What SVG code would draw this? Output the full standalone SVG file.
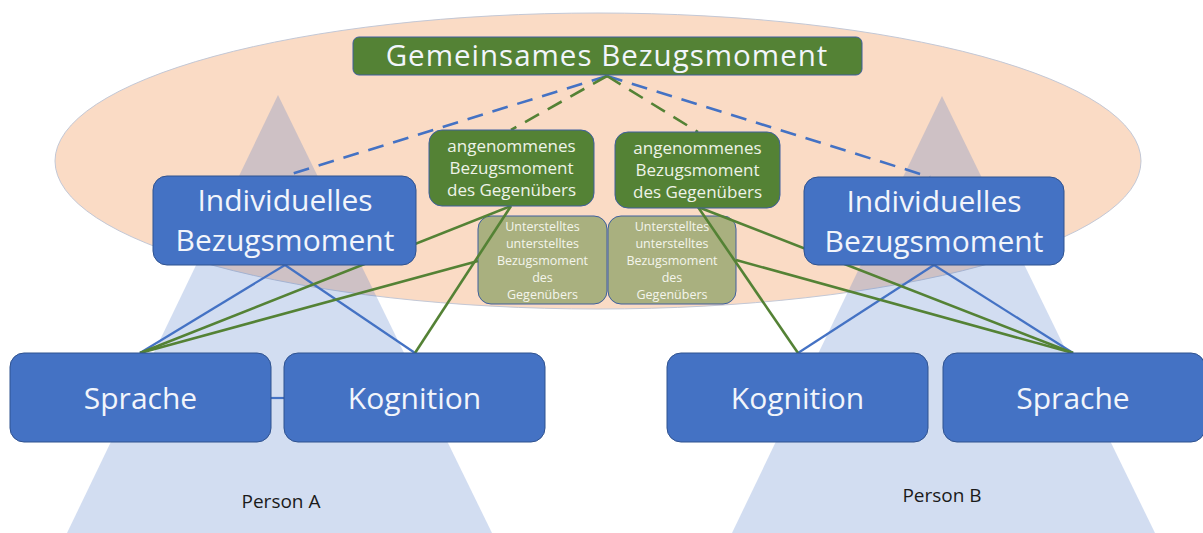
<svg xmlns="http://www.w3.org/2000/svg" width="1203" height="533" viewBox="0 0 1203 533">
  <style>
    .lbl { font-family: "Open Sans", "Liberation Sans", sans-serif; text-anchor: middle; }
    .big { font-size: 30px; fill: #F2F5FB; }
    .title { font-size: 29.5px; fill: #F2F5FB; letter-spacing: 1px; }
    .mid { font-size: 17px; fill: #EEF3E8; }
    .small { font-size: 12.5px; fill: #F4F5EC; }
    .person { font-size: 19px; fill: #1A1A1A; }
    .blueBox { fill: #4472C4; stroke: #2F528F; stroke-width: 1; }
    .greenBox { fill: #548235; stroke: #3E5F9E; stroke-width: 1; }
    .oliveBox { fill: #A9B07F; stroke: #3E5F9E; stroke-width: 1; }
    .tri { fill: #4472C4; fill-opacity: 0.24; }
    .lnBlue { stroke: #4472C4; stroke-width: 2.2; fill: none; }
    .lnGreen { stroke: #548235; stroke-width: 2.6; fill: none; }
    .dash { stroke-width: 2.6; stroke-dasharray: 16 10; }
  </style>

  <!-- shared space -->
  <ellipse id="shared-space" cx="598" cy="161" rx="543" ry="148" fill="#FADBC5" stroke="#C3C8D6" stroke-width="1"/>

  <!-- persons -->
  <g id="person-a">
    <polygon class="tri" points="278,95 492,533 67,533"/>
    <text class="lbl person" x="281" y="508">Person A</text>
  </g>
  <g id="person-b">
    <polygon class="tri" points="942,96 1155,533 732,533"/>
    <text class="lbl person" x="942" y="502">Person B</text>
  </g>

  <!-- assumed-assumed reference boxes -->
  <g id="unterstellt-a">
    <rect class="oliveBox" x="478" y="216" width="129" height="88" rx="13"/>
    <text class="lbl small" x="542.5" y="231">Unterstelltes</text>
    <text class="lbl small" x="542.5" y="248">unterstelltes</text>
    <text class="lbl small" x="542.5" y="265">Bezugsmoment</text>
    <text class="lbl small" x="542.5" y="282">des</text>
    <text class="lbl small" x="542.5" y="299">Gegenübers</text>
  </g>
  <g id="unterstellt-b">
    <rect class="oliveBox" x="608" y="216" width="128" height="88" rx="13"/>
    <text class="lbl small" x="672" y="231">Unterstelltes</text>
    <text class="lbl small" x="672" y="248">unterstelltes</text>
    <text class="lbl small" x="672" y="265">Bezugsmoment</text>
    <text class="lbl small" x="672" y="282">des</text>
    <text class="lbl small" x="672" y="299">Gegenübers</text>
  </g>

  <!-- connectors -->
  <g id="connectors">
    <line class="lnBlue dash" x1="607" y1="76" x2="285" y2="176"/>
    <line class="lnBlue dash" x1="607" y1="76" x2="930" y2="177"/>
    <line class="lnGreen dash" x1="607" y1="76" x2="511" y2="130"/>
    <line class="lnGreen dash" x1="607" y1="76" x2="698" y2="132"/>

    <line class="lnBlue" x1="285" y1="265" x2="140" y2="353"/>
    <line class="lnBlue" x1="285" y1="265" x2="415" y2="353"/>
    <line class="lnBlue" x1="934" y1="265" x2="798" y2="353"/>
    <line class="lnBlue" x1="934" y1="265" x2="1073" y2="353"/>
    <line class="lnBlue" x1="271" y1="398" x2="284" y2="398"/>

    <line class="lnGreen" x1="511" y1="206" x2="415" y2="353"/>
    <line class="lnGreen" x1="511" y1="206" x2="140" y2="353"/>
    <line class="lnGreen" x1="478" y1="261" x2="140" y2="353"/>
    <line class="lnGreen" x1="698" y1="207" x2="798" y2="353"/>
    <line class="lnGreen" x1="698" y1="207" x2="1073" y2="353"/>
    <line class="lnGreen" x1="736" y1="260" x2="1073" y2="353"/>
  </g>

  <!-- shared reference -->
  <g id="gemeinsam">
    <rect class="greenBox" x="353" y="37" width="509" height="38" rx="6"/>
    <text class="lbl title" x="607" y="66">Gemeinsames Bezugsmoment</text>
  </g>

  <!-- assumed reference of the counterpart -->
  <g id="angenommen-a">
    <rect class="greenBox" x="429" y="130" width="165" height="76" rx="13"/>
    <text class="lbl mid" x="511.5" y="152">angenommenes</text>
    <text class="lbl mid" x="511.5" y="174">Bezugsmoment</text>
    <text class="lbl mid" x="511.5" y="196">des Gegenübers</text>
  </g>
  <g id="angenommen-b">
    <rect class="greenBox" x="615" y="132" width="165" height="76" rx="13"/>
    <text class="lbl mid" x="697.5" y="154">angenommenes</text>
    <text class="lbl mid" x="697.5" y="176">Bezugsmoment</text>
    <text class="lbl mid" x="697.5" y="198">des Gegenübers</text>
  </g>

  <!-- individual references -->
  <g id="individuell-a">
    <rect class="blueBox" x="153" y="176" width="263" height="89" rx="14"/>
    <text class="lbl big" x="285" y="211">Individuelles</text>
    <text class="lbl big" x="285" y="251">Bezugsmoment</text>
  </g>
  <g id="individuell-b">
    <rect class="blueBox" x="804" y="177" width="260" height="88" rx="14"/>
    <text class="lbl big" x="934" y="212">Individuelles</text>
    <text class="lbl big" x="934" y="252">Bezugsmoment</text>
  </g>

  <!-- language and cognition -->
  <g id="sprache-a">
    <rect class="blueBox" x="10" y="353" width="261" height="89" rx="14"/>
    <text class="lbl big" x="140.5" y="409">Sprache</text>
  </g>
  <g id="kognition-a">
    <rect class="blueBox" x="284" y="353" width="261" height="89" rx="14"/>
    <text class="lbl big" x="414.5" y="409">Kognition</text>
  </g>
  <g id="kognition-b">
    <rect class="blueBox" x="667" y="353" width="261" height="89" rx="14"/>
    <text class="lbl big" x="797.5" y="409">Kognition</text>
  </g>
  <g id="sprache-b">
    <rect class="blueBox" x="943" y="353" width="262" height="89" rx="14"/>
    <text class="lbl big" x="1073" y="409">Sprache</text>
  </g>
</svg>
